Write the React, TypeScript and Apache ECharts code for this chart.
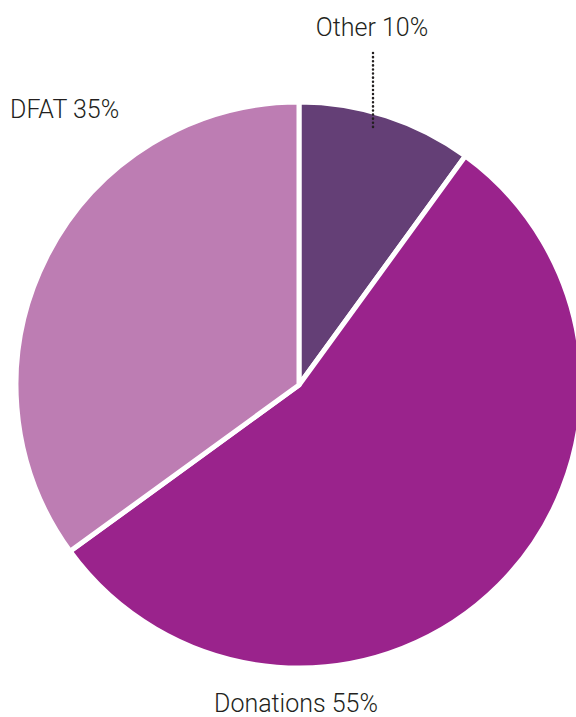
import React, { useEffect, useRef } from "react";
import * as echarts from "echarts";

const categories = ["Other", "Donations", "DFAT"];
const values = [10, 55, 35];
const colors = ["#643f76", "#9a238c", "#bd7db3"];

export default function App() {
  const ref = useRef<HTMLDivElement>(null);
  useEffect(() => {
    document.body.style.margin = "0";
    const chart = echarts.init(ref.current!, null, { renderer: "svg" });
    const font = "Roboto, 'DejaVu Sans', sans-serif";
    const labelText = (i: number) => `${categories[i]} ${values[i]}%`;
    const textStyle = {
      fontFamily: font,
      fontSize: 25,
      fontWeight: 300,
      fill: "#231f20",
      verticalAlign: "middle",
    };
    chart.setOption({
      animation: false,
      series: [
        {
          type: "pie",
          center: [299, 385],
          radius: [0, 283],
          startAngle: 90,
          clockwise: true,
          label: { show: false },
          labelLine: { show: false },
          emphasis: { disabled: true },
          itemStyle: { borderColor: "#ffffff", borderWidth: 5 },
          data: categories.map((c, i) => ({
            name: c,
            value: values[i],
            itemStyle: { color: colors[i] },
          })),
        },
      ],
      graphic: [
        {
          type: "text",
          x: 372,
          y: 27,
          style: { ...textStyle, text: labelText(0), align: "center" },
        },
        {
          type: "line",
          shape: { x1: 373, y1: 53, x2: 373, y2: 128 },
          style: { stroke: "#231f20", lineWidth: 2.5, lineDash: [0.1, 4], lineCap: "round" },
          z: 10,
        },
        {
          type: "text",
          x: 10,
          y: 109,
          style: { ...textStyle, text: labelText(2), align: "left" },
        },
        {
          type: "text",
          x: 296,
          y: 703,
          style: { ...textStyle, text: labelText(1), align: "center" },
        },
      ],
    });
    return () => chart.dispose();
  }, []);
  return <div ref={ref} style={{ width: 576, height: 717 }} />;
}
